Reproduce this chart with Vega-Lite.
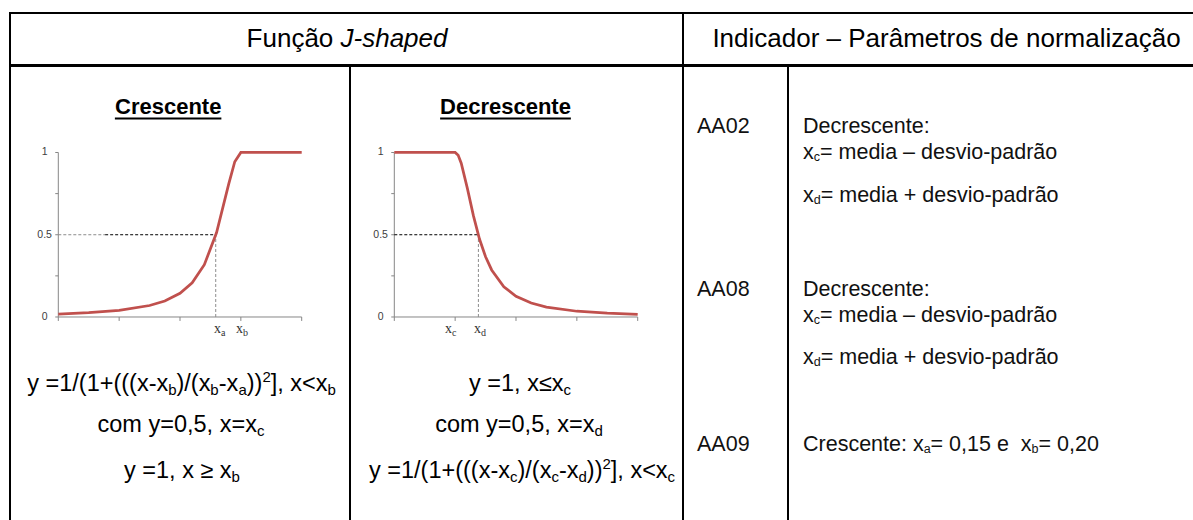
{
  "$schema": "https://vega.github.io/schema/vega-lite/v6.json",
  "background": "white",
  "padding": {"left": 9, "top": 12, "right": 0, "bottom": 0},
  "config": {
    "view": {"stroke": "#000000", "strokeWidth": 2},
    "text": {"font": "Liberation Sans", "color": "#000000"}
  },
  "datasets": {
    "curves": [
      {"panel": "C", "x": 0, "y": 0.018}, {"panel": "C", "x": 0.5, "y": 0.026}, {"panel": "C", "x": 1, "y": 0.04},
      {"panel": "C", "x": 1.5, "y": 0.07}, {"panel": "C", "x": 1.75, "y": 0.097}, {"panel": "C", "x": 2, "y": 0.144},
      {"panel": "C", "x": 2.2, "y": 0.208}, {"panel": "C", "x": 2.4, "y": 0.318}, {"panel": "C", "x": 2.6, "y": 0.512},
      {"panel": "C", "x": 2.8, "y": 0.808}, {"panel": "C", "x": 2.9, "y": 0.944}, {"panel": "C", "x": 3, "y": 1},
      {"panel": "C", "x": 4, "y": 1},
      {"panel": "D", "x": 0, "y": 1}, {"panel": "D", "x": 1, "y": 1}, {"panel": "D", "x": 1.05, "y": 0.983},
      {"panel": "D", "x": 1.1, "y": 0.935}, {"panel": "D", "x": 1.2, "y": 0.783}, {"panel": "D", "x": 1.3, "y": 0.616},
      {"panel": "D", "x": 1.4, "y": 0.474}, {"panel": "D", "x": 1.5, "y": 0.366}, {"panel": "D", "x": 1.6, "y": 0.286},
      {"panel": "D", "x": 1.8, "y": 0.184}, {"panel": "D", "x": 2, "y": 0.126}, {"panel": "D", "x": 2.25, "y": 0.085},
      {"panel": "D", "x": 2.5, "y": 0.06}, {"panel": "D", "x": 3, "y": 0.035}, {"panel": "D", "x": 3.5, "y": 0.023},
      {"panel": "D", "x": 4, "y": 0.016}
    ],
    "rules": [
      {"panel": "C", "kind": "axis", "x": 0, "y": 0, "x2": 0, "y2": 1},
      {"panel": "C", "kind": "axis", "x": 0, "y": 0, "x2": 4, "y2": 0},
      {"panel": "C", "kind": "tick", "x": 0, "y": 0, "x2": 0, "y2": -0.024},
      {"panel": "C", "kind": "tick", "x": 1, "y": 0, "x2": 1, "y2": -0.024},
      {"panel": "C", "kind": "tick", "x": 2, "y": 0, "x2": 2, "y2": -0.024},
      {"panel": "C", "kind": "tick", "x": 3, "y": 0, "x2": 3, "y2": -0.024},
      {"panel": "C", "kind": "tick", "x": 4, "y": 0, "x2": 4, "y2": -0.024},
      {"panel": "C", "kind": "tick", "x": -0.05, "y": 0, "x2": 0, "y2": 0},
      {"panel": "C", "kind": "tick", "x": -0.05, "y": 0.25, "x2": 0, "y2": 0.25},
      {"panel": "C", "kind": "tick", "x": -0.05, "y": 0.5, "x2": 0, "y2": 0.5},
      {"panel": "C", "kind": "tick", "x": -0.05, "y": 0.75, "x2": 0, "y2": 0.75},
      {"panel": "C", "kind": "tick", "x": -0.05, "y": 1, "x2": 0, "y2": 1},
      {"panel": "C", "kind": "gray", "x": 0, "y": 0.5, "x2": 0.77, "y2": 0.5},
      {"panel": "C", "kind": "gray", "x": 2.587, "y": 0, "x2": 2.587, "y2": 0.5},
      {"panel": "C", "kind": "black", "x": 0.77, "y": 0.5, "x2": 2.587, "y2": 0.5},
      {"panel": "C", "kind": "underline", "x": 0.93, "y": 1.2067, "x2": 2.68, "y2": 1.2067},
      {"panel": "D", "kind": "axis", "x": 0, "y": 0, "x2": 0, "y2": 1},
      {"panel": "D", "kind": "axis", "x": 0, "y": 0, "x2": 4, "y2": 0},
      {"panel": "D", "kind": "tick", "x": 0, "y": 0, "x2": 0, "y2": -0.024},
      {"panel": "D", "kind": "tick", "x": 1, "y": 0, "x2": 1, "y2": -0.024},
      {"panel": "D", "kind": "tick", "x": 2, "y": 0, "x2": 2, "y2": -0.024},
      {"panel": "D", "kind": "tick", "x": 3, "y": 0, "x2": 3, "y2": -0.024},
      {"panel": "D", "kind": "tick", "x": 4, "y": 0, "x2": 4, "y2": -0.024},
      {"panel": "D", "kind": "tick", "x": -0.05, "y": 0, "x2": 0, "y2": 0},
      {"panel": "D", "kind": "tick", "x": -0.05, "y": 0.25, "x2": 0, "y2": 0.25},
      {"panel": "D", "kind": "tick", "x": -0.05, "y": 0.5, "x2": 0, "y2": 0.5},
      {"panel": "D", "kind": "tick", "x": -0.05, "y": 0.75, "x2": 0, "y2": 0.75},
      {"panel": "D", "kind": "tick", "x": -0.05, "y": 1, "x2": 0, "y2": 1},
      {"panel": "D", "kind": "black", "x": 0, "y": 0.5, "x2": 1.382, "y2": 0.5},
      {"panel": "D", "kind": "gray", "x": 1.382, "y": 0, "x2": 1.382, "y2": 0.5},
      {"panel": "D", "kind": "underline", "x": 0.753, "y": 1.2067, "x2": 2.902, "y2": 1.2067}
    ],
    "texts": [
      {"panel": "H1", "role": "base", "t": "Função", "x": 0.4804, "y": 0.346},
      {"panel": "H1", "role": "italic", "t": "J-shaped", "x": 0.4911, "y": 0.346},
      {"panel": "H2", "role": "base", "t": "Indicador – Parâmetros de normalização", "x": 0.5, "y": 0.346},

      {"panel": "C", "role": "title", "t": "Crescente", "x": 1.806, "y": 1.231},
      {"panel": "C", "role": "ylab", "t": "1", "x": -0.225, "y": 1},
      {"panel": "C", "role": "ylab", "t": "0.5", "x": -0.225, "y": 0.5},
      {"panel": "C", "role": "ylab", "t": "0", "x": -0.225, "y": 0},
      {"panel": "C", "role": "xlab", "t": "x", "x": 2.559, "y": -0.1},
      {"panel": "C", "role": "xlabsub", "t": "a", "x": 2.673, "y": -0.1},
      {"panel": "C", "role": "xlab", "t": "x", "x": 2.92, "y": -0.1},
      {"panel": "C", "role": "xlabsub", "t": "b", "x": 3.035, "y": -0.1},
      {"panel": "C", "role": "base", "t": "y =1/(1+(((x-x", "x": -0.511, "y": -0.4498},
      {"panel": "C", "role": "sub", "t": "b", "x": 1.806, "y": -0.4498},
      {"panel": "C", "role": "base", "t": ")/(x", "x": 1.942, "y": -0.4498},
      {"panel": "C", "role": "sub", "t": "b", "x": 2.499, "y": -0.4498},
      {"panel": "C", "role": "base", "t": "-x", "x": 2.637, "y": -0.4498},
      {"panel": "C", "role": "sub", "t": "a", "x": 2.96, "y": -0.4498},
      {"panel": "C", "role": "base", "t": "))", "x": 3.096, "y": -0.4498},
      {"panel": "C", "role": "sup", "t": "2", "x": 3.354, "y": -0.4498},
      {"panel": "C", "role": "base", "t": "], x<x", "x": 3.491, "y": -0.4498},
      {"panel": "C", "role": "sub", "t": "b", "x": 4.424, "y": -0.4498},
      {"panel": "C", "role": "base", "t": "com y=0,5, x=x", "x": 0.645, "y": -0.6991},
      {"panel": "C", "role": "sub", "t": "c", "x": 3.265, "y": -0.6991},
      {"panel": "C", "role": "base", "t": "y =1, x ≥ x", "x": 1.08, "y": -0.9787},
      {"panel": "C", "role": "sub", "t": "b", "x": 2.848, "y": -0.9787},

      {"panel": "D", "role": "title", "t": "Decrescente", "x": 1.827, "y": 1.231},
      {"panel": "D", "role": "ylab", "t": "1", "x": -0.225, "y": 1},
      {"panel": "D", "role": "ylab", "t": "0.5", "x": -0.225, "y": 0.5},
      {"panel": "D", "role": "ylab", "t": "0", "x": -0.225, "y": 0},
      {"panel": "D", "role": "xlab", "t": "x", "x": 0.833, "y": -0.1},
      {"panel": "D", "role": "xlabsub", "t": "c", "x": 0.948, "y": -0.1},
      {"panel": "D", "role": "xlab", "t": "x", "x": 1.31, "y": -0.1},
      {"panel": "D", "role": "xlabsub", "t": "d", "x": 1.425, "y": -0.1},
      {"panel": "D", "role": "base", "t": "y =1, x≤x", "x": 1.228, "y": -0.4498},
      {"panel": "D", "role": "sub", "t": "c", "x": 2.781, "y": -0.4498},
      {"panel": "D", "role": "base", "t": "com y=0,5, x=x", "x": 0.671, "y": -0.6991},
      {"panel": "D", "role": "sub", "t": "d", "x": 3.29, "y": -0.6991},
      {"panel": "D", "role": "base", "t": "y =1/(1+(((x-x", "x": -0.416, "y": -0.9787},
      {"panel": "D", "role": "sub", "t": "c", "x": 1.901, "y": -0.9787},
      {"panel": "D", "role": "base", "t": ")/(x", "x": 2.025, "y": -0.9787},
      {"panel": "D", "role": "sub", "t": "c", "x": 2.582, "y": -0.9787},
      {"panel": "D", "role": "base", "t": "-x", "x": 2.705, "y": -0.9787},
      {"panel": "D", "role": "sub", "t": "d", "x": 3.027, "y": -0.9787},
      {"panel": "D", "role": "base", "t": "))", "x": 3.164, "y": -0.9787},
      {"panel": "D", "role": "sup", "t": "2", "x": 3.421, "y": -0.9787},
      {"panel": "D", "role": "base", "t": "], x<x", "x": 3.558, "y": -0.9787},
      {"panel": "D", "role": "sub", "t": "c", "x": 4.491, "y": -0.9787},

      {"panel": "K", "role": "base", "t": "AA02", "x": 0.1333, "y": 1.1185},
      {"panel": "K", "role": "base", "t": "AA08", "x": 0.1333, "y": 0.1275},
      {"panel": "K", "role": "base", "t": "AA09", "x": 0.1333, "y": -0.8144},

      {"panel": "P", "role": "base", "t": "Decrescente:", "x": 0.03555, "y": 1.1185},
      {"panel": "P", "role": "base", "t": "x", "x": 0.03555, "y": 0.9605},
      {"panel": "P", "role": "sub", "t": "c", "x": 0.06102, "y": 0.9605},
      {"panel": "P", "role": "base", "t": "= media – desvio-padrão", "x": 0.07583, "y": 0.9605},
      {"panel": "P", "role": "base", "t": "x", "x": 0.03555, "y": 0.6991},
      {"panel": "P", "role": "sub", "t": "d", "x": 0.06102, "y": 0.6991},
      {"panel": "P", "role": "base", "t": "= media + desvio-padrão", "x": 0.07749, "y": 0.6991},
      {"panel": "P", "role": "base", "t": "Decrescente:", "x": 0.03555, "y": 0.1275},
      {"panel": "P", "role": "base", "t": "x", "x": 0.03555, "y": -0.0305},
      {"panel": "P", "role": "sub", "t": "c", "x": 0.06102, "y": -0.0305},
      {"panel": "P", "role": "base", "t": "= media – desvio-padrão", "x": 0.07583, "y": -0.0305},
      {"panel": "P", "role": "base", "t": "x", "x": 0.03555, "y": -0.2857},
      {"panel": "P", "role": "sub", "t": "d", "x": 0.06102, "y": -0.2857},
      {"panel": "P", "role": "base", "t": "= media + desvio-padrão", "x": 0.07749, "y": -0.2857},
      {"panel": "P", "role": "base", "t": "Crescente: x", "x": 0.03555, "y": -0.8144},
      {"panel": "P", "role": "sub", "t": "a", "x": 0.3216, "y": -0.8144},
      {"panel": "P", "role": "base", "t": "= 0,15 e \u00a0x", "x": 0.3379, "y": -0.8144},
      {"panel": "P", "role": "sub", "t": "b", "x": 0.5773, "y": -0.8144},
      {"panel": "P", "role": "base", "t": "= 0,20", "x": 0.5938, "y": -0.8144}
    ]
  },
  "spacing": -2,
  "vconcat": [
    {
      "spacing": 0,
      "bounds": "flush",
      "hconcat": [
        {
          "width": 673, "height": 52,
          "data": {"name": "texts"},
          "encoding": {
            "x": {"field": "x", "type": "quantitative", "scale": {"domain": [0, 1], "nice": false, "zero": false}, "axis": null},
            "y": {"field": "y", "type": "quantitative", "scale": {"domain": [0, 1], "nice": false, "zero": false}, "axis": null},
            "text": {"field": "t", "type": "nominal"}
          },
          "layer": [
            {"transform": [{"filter": "datum.panel === 'H1' && datum.role === 'base'"}], "mark": {"type": "text", "align": "right", "baseline": "alphabetic", "fontSize": 26}},
            {"transform": [{"filter": "datum.panel === 'H1' && datum.role === 'italic'"}], "mark": {"type": "text", "align": "left", "baseline": "alphabetic", "fontSize": 26, "fontStyle": "italic"}}
          ]
        },
        {
          "width": 527, "height": 52,
          "data": {"name": "texts"},
          "transform": [{"filter": "datum.panel === 'H2'"}],
          "encoding": {
            "x": {"field": "x", "type": "quantitative", "scale": {"domain": [0, 1], "nice": false, "zero": false}, "axis": null},
            "y": {"field": "y", "type": "quantitative", "scale": {"domain": [0, 1], "nice": false, "zero": false}, "axis": null},
            "text": {"field": "t", "type": "nominal"}
          },
          "mark": {"type": "text", "align": "center", "baseline": "alphabetic", "fontSize": 26}
        }
      ]
    },
    {
      "spacing": 0,
      "bounds": "flush",
      "hconcat": [
        {
          "width": 340, "height": 460,
          "encoding": {
            "x": {"field": "x", "type": "quantitative", "scale": {"domain": [-0.7937, 4.7937], "nice": false, "zero": false}, "axis": null},
            "y": {"field": "y", "type": "quantitative", "scale": {"domain": [-1.2705, 1.5258], "nice": false, "zero": false}, "axis": null}
          },
          "layer": [
            {"data": {"name": "rules"}, "transform": [{"filter": "datum.panel === 'C' && (datum.kind === 'axis' || datum.kind === 'tick')"}], "mark": {"type": "rule", "color": "#868686", "strokeWidth": 1}, "encoding": {"x2": {"field": "x2"}, "y2": {"field": "y2"}}},
            {"data": {"name": "rules"}, "transform": [{"filter": "datum.panel === 'C' && datum.kind === 'gray'"}], "mark": {"type": "rule", "color": "#8c8c8c", "strokeWidth": 1, "strokeDash": [3, 2]}, "encoding": {"x2": {"field": "x2"}, "y2": {"field": "y2"}}},
            {"data": {"name": "rules"}, "transform": [{"filter": "datum.panel === 'C' && datum.kind === 'black'"}], "mark": {"type": "rule", "color": "#000000", "strokeWidth": 1, "strokeDash": [3, 2]}, "encoding": {"x2": {"field": "x2"}, "y2": {"field": "y2"}}},
            {"data": {"name": "rules"}, "transform": [{"filter": "datum.panel === 'C' && datum.kind === 'underline'"}], "mark": {"type": "rule", "color": "#000000", "strokeWidth": 2}, "encoding": {"x2": {"field": "x2"}, "y2": {"field": "y2"}}},
            {"data": {"name": "curves"}, "transform": [{"filter": "datum.panel === 'C'"}], "mark": {"type": "line", "color": "#c0504d", "strokeWidth": 2.75}, "encoding": {"order": {"field": "x", "type": "quantitative"}}},
            {"data": {"name": "texts"}, "transform": [{"filter": "datum.panel === 'C' && datum.role === 'title'"}], "mark": {"type": "text", "fontWeight": "bold", "fontSize": 22, "align": "center", "baseline": "alphabetic"}, "encoding": {"text": {"field": "t", "type": "nominal"}}},
            {"data": {"name": "texts"}, "transform": [{"filter": "datum.panel === 'C' && datum.role === 'ylab'"}], "mark": {"type": "text", "fontSize": 10.5, "align": "center", "baseline": "middle", "color": "#404040"}, "encoding": {"text": {"field": "t", "type": "nominal"}}},
            {"data": {"name": "texts"}, "transform": [{"filter": "datum.panel === 'C' && datum.role === 'xlab'"}], "mark": {"type": "text", "font": "Liberation Serif", "fontSize": 14, "align": "left", "baseline": "alphabetic", "color": "#333333"}, "encoding": {"text": {"field": "t", "type": "nominal"}}},
            {"data": {"name": "texts"}, "transform": [{"filter": "datum.panel === 'C' && datum.role === 'xlabsub'"}], "mark": {"type": "text", "font": "Liberation Serif", "fontSize": 10, "dy": 3, "align": "left", "baseline": "alphabetic", "color": "#333333"}, "encoding": {"text": {"field": "t", "type": "nominal"}}},
            {"data": {"name": "texts"}, "transform": [{"filter": "datum.panel === 'C' && datum.role === 'base'"}], "mark": {"type": "text", "fontSize": 23.5, "align": "left", "baseline": "alphabetic"}, "encoding": {"text": {"field": "t", "type": "nominal"}}},
            {"data": {"name": "texts"}, "transform": [{"filter": "datum.panel === 'C' && datum.role === 'sub'"}], "mark": {"type": "text", "fontSize": 15, "dy": 4, "align": "left", "baseline": "alphabetic"}, "encoding": {"text": {"field": "t", "type": "nominal"}}},
            {"data": {"name": "texts"}, "transform": [{"filter": "datum.panel === 'C' && datum.role === 'sup'"}], "mark": {"type": "text", "fontSize": 15, "dy": -9, "align": "left", "baseline": "alphabetic"}, "encoding": {"text": {"field": "t", "type": "nominal"}}}
          ]
        },
        {
          "width": 333, "height": 460,
          "encoding": {
            "x": {"field": "x", "type": "quantitative", "scale": {"domain": [-0.728, 4.7445], "nice": false, "zero": false}, "axis": null},
            "y": {"field": "y", "type": "quantitative", "scale": {"domain": [-1.2705, 1.5258], "nice": false, "zero": false}, "axis": null}
          },
          "layer": [
            {"data": {"name": "rules"}, "transform": [{"filter": "datum.panel === 'D' && (datum.kind === 'axis' || datum.kind === 'tick')"}], "mark": {"type": "rule", "color": "#868686", "strokeWidth": 1}, "encoding": {"x2": {"field": "x2"}, "y2": {"field": "y2"}}},
            {"data": {"name": "rules"}, "transform": [{"filter": "datum.panel === 'D' && datum.kind === 'gray'"}], "mark": {"type": "rule", "color": "#8c8c8c", "strokeWidth": 1, "strokeDash": [3, 2]}, "encoding": {"x2": {"field": "x2"}, "y2": {"field": "y2"}}},
            {"data": {"name": "rules"}, "transform": [{"filter": "datum.panel === 'D' && datum.kind === 'black'"}], "mark": {"type": "rule", "color": "#000000", "strokeWidth": 1, "strokeDash": [3, 2]}, "encoding": {"x2": {"field": "x2"}, "y2": {"field": "y2"}}},
            {"data": {"name": "rules"}, "transform": [{"filter": "datum.panel === 'D' && datum.kind === 'underline'"}], "mark": {"type": "rule", "color": "#000000", "strokeWidth": 2}, "encoding": {"x2": {"field": "x2"}, "y2": {"field": "y2"}}},
            {"data": {"name": "curves"}, "transform": [{"filter": "datum.panel === 'D'"}], "mark": {"type": "line", "color": "#c0504d", "strokeWidth": 2.75}, "encoding": {"order": {"field": "x", "type": "quantitative"}}},
            {"data": {"name": "texts"}, "transform": [{"filter": "datum.panel === 'D' && datum.role === 'title'"}], "mark": {"type": "text", "fontWeight": "bold", "fontSize": 22, "align": "center", "baseline": "alphabetic"}, "encoding": {"text": {"field": "t", "type": "nominal"}}},
            {"data": {"name": "texts"}, "transform": [{"filter": "datum.panel === 'D' && datum.role === 'ylab'"}], "mark": {"type": "text", "fontSize": 10.5, "align": "center", "baseline": "middle", "color": "#404040"}, "encoding": {"text": {"field": "t", "type": "nominal"}}},
            {"data": {"name": "texts"}, "transform": [{"filter": "datum.panel === 'D' && datum.role === 'xlab'"}], "mark": {"type": "text", "font": "Liberation Serif", "fontSize": 14, "align": "left", "baseline": "alphabetic", "color": "#333333"}, "encoding": {"text": {"field": "t", "type": "nominal"}}},
            {"data": {"name": "texts"}, "transform": [{"filter": "datum.panel === 'D' && datum.role === 'xlabsub'"}], "mark": {"type": "text", "font": "Liberation Serif", "fontSize": 10, "dy": 3, "align": "left", "baseline": "alphabetic", "color": "#333333"}, "encoding": {"text": {"field": "t", "type": "nominal"}}},
            {"data": {"name": "texts"}, "transform": [{"filter": "datum.panel === 'D' && datum.role === 'base'"}], "mark": {"type": "text", "fontSize": 23.5, "align": "left", "baseline": "alphabetic"}, "encoding": {"text": {"field": "t", "type": "nominal"}}},
            {"data": {"name": "texts"}, "transform": [{"filter": "datum.panel === 'D' && datum.role === 'sub'"}], "mark": {"type": "text", "fontSize": 15, "dy": 4, "align": "left", "baseline": "alphabetic"}, "encoding": {"text": {"field": "t", "type": "nominal"}}},
            {"data": {"name": "texts"}, "transform": [{"filter": "datum.panel === 'D' && datum.role === 'sup'"}], "mark": {"type": "text", "fontSize": 15, "dy": -9, "align": "left", "baseline": "alphabetic"}, "encoding": {"text": {"field": "t", "type": "nominal"}}}
          ]
        },
        {
          "width": 105, "height": 460,
          "data": {"name": "texts"},
          "transform": [{"filter": "datum.panel === 'K'"}],
          "encoding": {
            "x": {"field": "x", "type": "quantitative", "scale": {"domain": [0, 1], "nice": false, "zero": false}, "axis": null},
            "y": {"field": "y", "type": "quantitative", "scale": {"domain": [-1.2705, 1.5258], "nice": false, "zero": false}, "axis": null},
            "text": {"field": "t", "type": "nominal"}
          },
          "mark": {"type": "text", "fontSize": 21.5, "align": "left", "baseline": "alphabetic", "color": "#111111"}
        },
        {
          "width": 422, "height": 460,
          "data": {"name": "texts"},
          "encoding": {
            "x": {"field": "x", "type": "quantitative", "scale": {"domain": [0, 1], "nice": false, "zero": false}, "axis": null},
            "y": {"field": "y", "type": "quantitative", "scale": {"domain": [-1.2705, 1.5258], "nice": false, "zero": false}, "axis": null},
            "text": {"field": "t", "type": "nominal"}
          },
          "layer": [
            {"transform": [{"filter": "datum.panel === 'P' && datum.role === 'base'"}], "mark": {"type": "text", "fontSize": 21.5, "align": "left", "baseline": "alphabetic", "color": "#111111"}},
            {"transform": [{"filter": "datum.panel === 'P' && datum.role === 'sub'"}], "mark": {"type": "text", "fontSize": 12.5, "dy": 2, "align": "left", "baseline": "alphabetic", "color": "#111111"}}
          ]
        }
      ]
    }
  ]
}
